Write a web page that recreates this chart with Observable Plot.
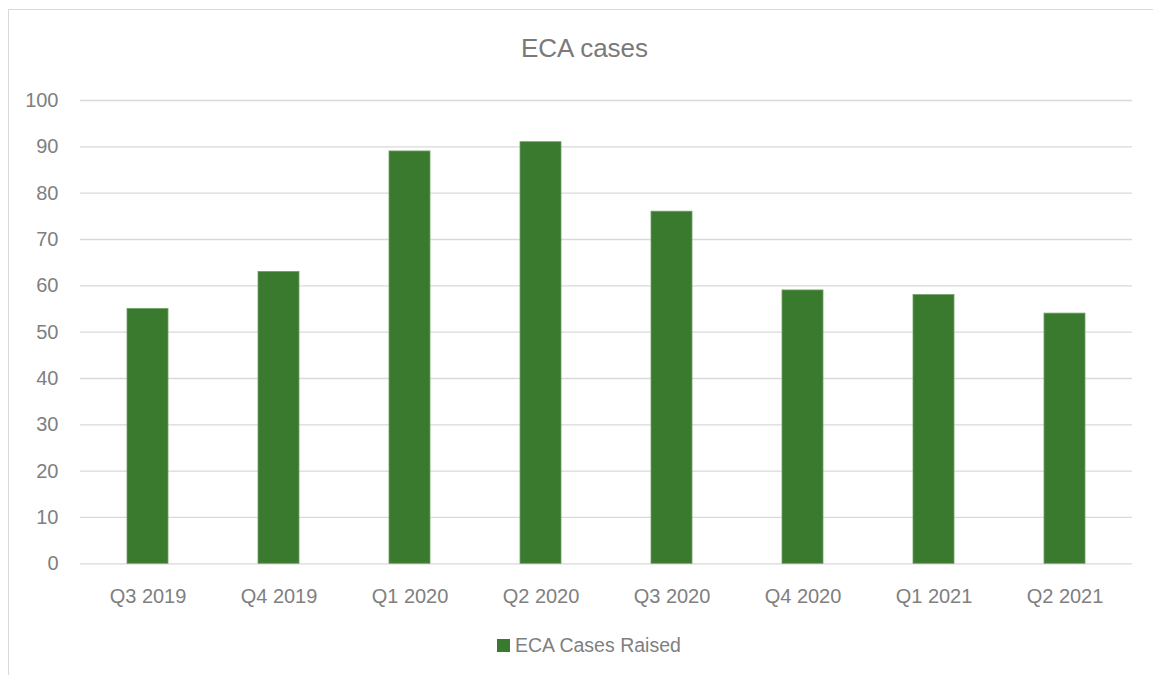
<!DOCTYPE html>
<html>
<head>
<meta charset="utf-8">
<script src="https://cdn.jsdelivr.net/npm/d3@7"></script>
<script src="https://cdn.jsdelivr.net/npm/@observablehq/plot@0.6"></script>
<style>
  html, body { margin: 0; padding: 0; background: #fff; }
  body { width: 1153px; height: 675px; position: relative; overflow: hidden; font-family: "Liberation Sans", Arial, sans-serif; }
  #frame { position: absolute; left: 8px; top: 9px; width: 1200px; height: 700px; border-top: 1.5px solid #d9d9d9; border-left: 1.5px solid #d9d9d9; }
  #title { position: absolute; left: 0; width: 1169px; top: 33px; text-align: center; font-size: 26px; color: #7a7a7a; line-height: 30px; }
  #chart { position: absolute; left: 0; top: 80px; }
  #legend { position: absolute; left: 497px; top: 632px; height: 26px; display: flex; align-items: center; font-size: 19.5px; color: #7f7f7f; }
  #legend .sw { width: 13px; height: 13px; background: #3a7a2e; margin-right: 5px; }
</style>
</head>
<body>
<div id="frame"></div>
<div id="title">ECA cases</div>
<div id="chart"></div>
<div id="legend"><span class="sw"></span><span id="legendText"></span></div>
<script>
const categories = ["Q3 2019", "Q4 2019", "Q1 2020", "Q2 2020", "Q3 2020", "Q4 2020", "Q1 2021", "Q2 2021"];
const values = [55, 63, 89, 91, 76, 59, 58, 54];
const yTicks = [0, 10, 20, 30, 40, 50, 60, 70, 80, 90, 100];
const seriesName = "ECA Cases Raised";

const data = categories.map((c, i) => ({quarter: c, value: values[i]}));
document.getElementById("legendText").textContent = seriesName;

const chart = Plot.plot({
  width: 1153,
  height: 540,
  marginLeft: 80,
  marginRight: 21,
  marginTop: 20,
  marginBottom: 56.7,
  style: { fontFamily: "'Liberation Sans', Arial, sans-serif", fontSize: "20px", color: "#7f7f7f", background: "transparent" },
  x: { domain: categories, paddingInner: 0.69, paddingOuter: 0.345, label: null },
  y: { domain: [0, 100], label: null },
  marks: [
    Plot.ruleY(yTicks, { stroke: "#d9d9d9", strokeWidth: 1.3 }),
    Plot.barY(data, { x: "quarter", y: "value", fill: "#3a7a2e", stroke: "#6f9e63", strokeWidth: 0.8 }),
    Plot.axisY(yTicks, { tickSize: 0, tickPadding: 22, label: null, fill: "#7f7f7f" }),
    Plot.axisX({ tickSize: 0, tickPadding: 25, label: null, fill: "#7f7f7f" })
  ]
});
document.getElementById("chart").appendChild(chart);
</script>
</body>
</html>
